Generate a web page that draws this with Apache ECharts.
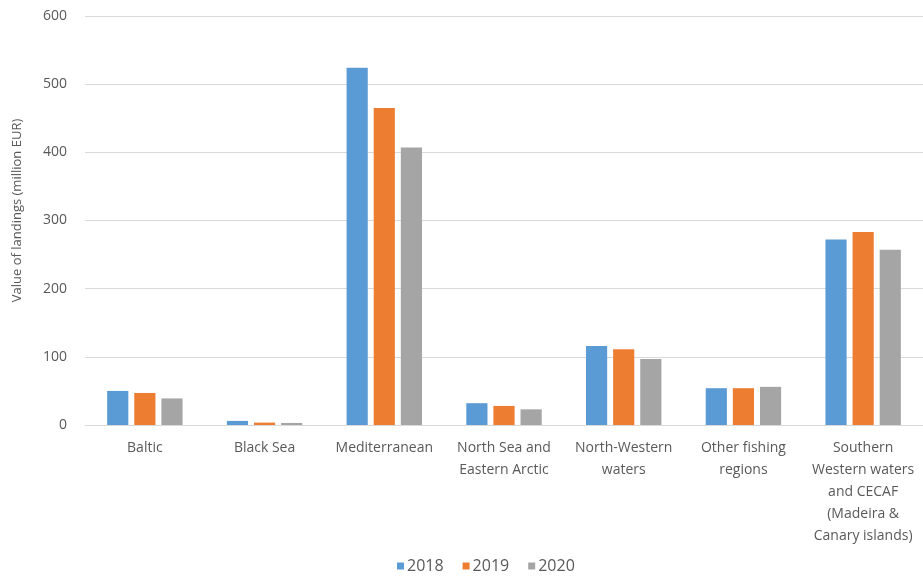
<!DOCTYPE html>
<html>
<head>
<meta charset="utf-8">
<script src="https://cdn.jsdelivr.net/npm/echarts@6/dist/echarts.min.js"></script>
<style>
  html, body { margin: 0; padding: 0; background: #fff; }
  #chart { width: 923px; height: 577px; }
</style>
</head>
<body>
<div id="chart"></div>
<script>
// Fishing regions (x-axis categories)
const regions = [
  'Baltic',
  'Black Sea',
  'Mediterranean',
  'North Sea and\nEastern Arctic',
  'North-Western\nwaters',
  'Other fishing\nregions',
  'Southern\nWestern waters\nand CECAF\n(Madeira &\nCanary islands)'
];

// Value of landings, million EUR
const landings2018 = [50, 6, 524, 32, 116, 54, 272];
const landings2019 = [47, 3.5, 465, 28, 111, 54, 283];
const landings2020 = [39, 3, 407, 23, 97, 56, 257];

const years = ['2018', '2019', '2020'];
const colors = ['#5b9bd5', '#ed7d31', '#a5a5a5'];

const textColor = '#595959';
const fontFamily = 'Open Sans, Liberation Sans, sans-serif';

const chart = echarts.init(document.getElementById('chart'), null, { renderer: 'canvas' });

const seriesData = [landings2018, landings2019, landings2020];

chart.setOption({
  animation: false,
  color: colors,
  textStyle: { fontFamily: fontFamily, color: textColor },
  grid: { left: 85, top: 16, width: 840, height: 409, containLabel: false },
  legend: {
    data: years,
    top: 553,
    left: 392,
    itemWidth: 7,
    itemHeight: 7,
    itemGap: 19,
    icon: 'rect',
    textStyle: { fontSize: 16, color: textColor, fontFamily: fontFamily, padding: [0, 0, 0, -2] }
  },
  xAxis: {
    type: 'category',
    data: regions,
    axisLine: { show: true, lineStyle: { color: '#d9d9d9', width: 1 } },
    axisTick: { show: false },
    axisLabel: {
      interval: 0,
      fontSize: 14,
      color: textColor,
      lineHeight: 22,
      margin: 12,
      fontFamily: fontFamily
    }
  },
  yAxis: {
    type: 'value',
    min: 0,
    max: 600,
    interval: 100,
    name: 'Value of landings (million EUR)',
    nameLocation: 'middle',
    nameGap: 61,
    nameRotate: 90,
    nameTextStyle: { fontSize: 13, color: textColor, fontFamily: fontFamily, padding: [0, 0, 0, 20] },
    axisLine: { show: false },
    axisTick: { show: false },
    axisLabel: { fontSize: 14, color: textColor, margin: 18, fontFamily: fontFamily },
    splitLine: { lineStyle: { color: '#d9d9d9', width: 1 } }
  },
  series: years.map((y, i) => ({
    name: y,
    type: 'bar',
    data: seriesData[i],
    barGap: '28%',
    barCategoryGap: '37%',
    itemStyle: { color: colors[i] }
  }))
});
</script>
</body>
</html>
